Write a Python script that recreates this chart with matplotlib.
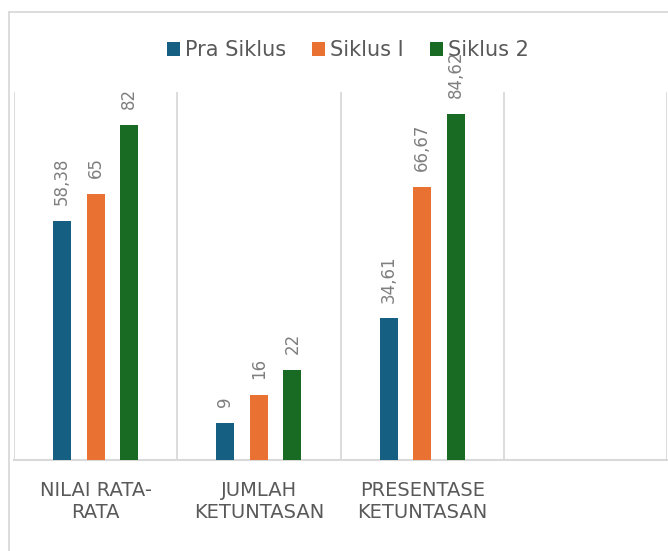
import matplotlib
matplotlib.use("Agg")
import matplotlib.pyplot as plt
from matplotlib.lines import Line2D
import numpy as np

plt.rcParams['font.family'] = ['DejaVu Sans']

# --- data ---
categories = ["NILAI RATA-\nRATA", "JUMLAH\nKETUNTASAN", "PRESENTASE\nKETUNTASAN", ""]
series_names = ["Pra Siklus", "Siklus I", "Siklus 2"]
pra_siklus = [58.38, 9, 34.61]
siklus_1 = [65, 16, 66.67]
siklus_2 = [82, 22, 84.62]
pra_labels = ["58,38", "9", "34,61"]
siklus_1_labels = ["65", "16", "66,67"]
siklus_2_labels = ["82", "22", "84,62"]

COLORS = ['#156082', '#E97132', '#196B24']
GRID = '#D9D9D9'
W, H = 668, 551

fig = plt.figure(figsize=(W / 100, H / 100), dpi=100)

# chart border: only left and top edges are inside the crop
bx, by = 9 / W, 1 - 12 / H
fig.add_artist(Line2D([bx, bx], [0, by], transform=fig.transFigure,
                      color=GRID, linewidth=1.3))
fig.add_artist(Line2D([bx, 1.0], [by, by], transform=fig.transFigure,
                      color=GRID, linewidth=1.3))

ax = fig.add_axes([14 / W, (H - 460) / H, (667 - 14) / W, (460 - 92) / H])
ax.set_xlim(-0.5, 3.5)
ax.set_ylim(0, 90)
ax.set_frame_on(False)

x = np.arange(len(pra_siklus))
width = 0.11
offset = 0.205
all_vals = [pra_siklus, siklus_1, siklus_2]
all_labels = [pra_labels, siklus_1_labels, siklus_2_labels]
for i, (vals, labs) in enumerate(zip(all_vals, all_labels)):
    bars = ax.bar(x + (i - 1) * offset, vals, width, color=COLORS[i],
                  label=series_names[i], zorder=3)
    ax.bar_label(bars, labels=labs, rotation=90, padding=11.5,
                 fontsize=12, color='#7F7F7F')

# baseline and category separators
ax.axhline(0, color=GRID, linewidth=1.5, zorder=2, clip_on=False)
ax.set_yticks([])
ax.set_xticks(np.arange(len(categories)))
ax.set_xticklabels(categories, fontsize=14, color='#595959', linespacing=1.2)
ax.tick_params(axis='x', length=0, pad=15)
ax.set_xticks(np.arange(len(categories) + 1) - 0.5, minor=True)
ax.tick_params(axis='x', which='minor', length=0)
ax.grid(True, which='minor', axis='x', color=GRID, linewidth=1.3, zorder=0)

leg = fig.legend(loc='center', bbox_to_anchor=(348 / W, 1 - 50 / H), ncol=3,
                 frameon=False, fontsize=15, handlelength=0.63,
                 handleheight=0.65, handletextpad=0.25, columnspacing=1.25,
                 labelcolor='#595959')

fig.savefig('out.png', dpi=100)
